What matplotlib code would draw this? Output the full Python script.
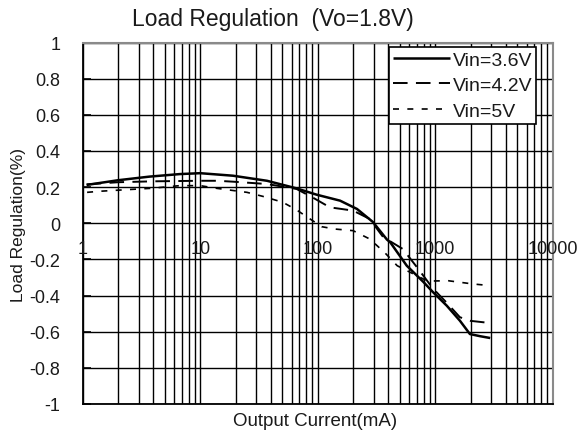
import matplotlib
matplotlib.use("Agg")
import matplotlib.pyplot as plt
from matplotlib.ticker import LogLocator, NullFormatter, FixedLocator

plt.rcParams['font.family'] = ['Liberation Sans', 'DejaVu Sans']

# ---- data ----
i_36 = [1.08, 2, 3.7, 6.7, 10, 19, 37, 66, 98, 155, 216, 295, 388, 414, 573, 794, 954, 1254, 1622, 1975, 2415, 2940]
v_36 = [0.212, 0.238, 0.258, 0.272, 0.277, 0.263, 0.235, 0.193, 0.158, 0.125, 0.079, 0.007, -0.09, -0.105, -0.235, -0.325, -0.38, -0.456, -0.539, -0.613, -0.625, -0.635]

i_42 = [1.08, 2, 4, 10, 14, 19, 37, 66, 92, 127, 200, 277, 360, 529, 697, 954, 1254, 1622, 2000, 2940]
v_42 = [0.215, 0.227, 0.232, 0.235, 0.235, 0.23, 0.217, 0.19, 0.14, 0.088, 0.07, 0.024, -0.076, -0.142, -0.242, -0.36, -0.44, -0.52, -0.54, -0.552]

i_50 = [1.09, 1.4, 2.4, 3.75, 6.7, 10, 13.9, 25, 34, 50.5, 66, 86, 108, 140, 200, 277, 320, 375, 475, 860, 1290, 2100, 2940]
v_50 = [0.171, 0.177, 0.186, 0.193, 0.208, 0.208, 0.193, 0.171, 0.149, 0.116, 0.074, 0.024, -0.019, -0.032, -0.041, -0.087, -0.124, -0.165, -0.235, -0.32, -0.318, -0.336, -0.345]

series_labels = ['Vin=3.6V', 'Vin=4.2V', 'Vin=5V']
ytick_vals = [1, 0.8, 0.6, 0.4, 0.2, 0, -0.2, -0.4, -0.6, -0.8, -1]
ytick_labels = ['1', '0.8', '0.6', '0.4', '0.2', '0', '-0.2', '-0.4', '-0.6', '-0.8', '-1']
xtick_vals = [1, 10, 100, 1000, 10000]
xtick_labels = ['1', '10', '100', '1000', '10000']

W, H = 587, 431
fig = plt.figure(figsize=(W / 100, H / 100), dpi=100)
ax = fig.add_axes([82.7 / W, 1 - 405 / H, (552.7 - 82.7) / W, (405 - 43.5) / H])

ax.set_xscale('log')
ax.set_xlim(1, 10000)
ax.set_ylim(-1, 1)

ax.xaxis.set_major_locator(FixedLocator(xtick_vals))
ax.xaxis.set_minor_locator(LogLocator(base=10, subs=range(2, 10)))
ax.xaxis.set_major_formatter(NullFormatter())
ax.xaxis.set_minor_formatter(NullFormatter())
ax.tick_params(axis='x', which='both', length=0)

ax.set_yticks(ytick_vals)
ax.set_yticklabels(ytick_labels)
ax.tick_params(axis='y', direction='in', length=6, width=1.2, pad=16,
               labelsize=13, colors='black')
for lab in ax.get_yticklabels():
    lab.set_color('#1a1a1a')

ax.grid(True, which='both', axis='x', color='black', linewidth=1.0)
ax.grid(True, which='major', axis='y', color='black', linewidth=1.0)

for s in ['left', 'bottom']:
    ax.spines[s].set_color('black')
    ax.spines[s].set_linewidth(1.3)
for s in ['top', 'right']:
    ax.spines[s].set_color('#8a8a8a')
    ax.spines[s].set_linewidth(1.5)

ax.plot(i_36, v_36, color='black', linewidth=1.8, solid_capstyle='butt',
        label=series_labels[0])
ax.plot(i_42, v_42, color='black', linewidth=1.4, linestyle=(0, (7.5, 4.3)),
        label=series_labels[1])
ax.plot(i_50, v_50, color='black', linewidth=1.2, linestyle=(0, (3.6, 5.0)),
        label=series_labels[2])

for xv, xl in zip(xtick_vals, xtick_labels):
    ax.text(xv, -0.142, xl, ha='center', va='center', fontsize=13,
            color='#1a1a1a', zorder=3)

leg = ax.legend(loc='upper right', bbox_to_anchor=(536 / W, 1 - 48 / H),
                bbox_transform=fig.transFigure, borderaxespad=0,
                fancybox=False, framealpha=1, edgecolor='black',
                fontsize=14, handlelength=2.9, handletextpad=0.15,
                labelspacing=0.41, borderpad=0.2)
leg.get_frame().set_linewidth(1.2)
for t in leg.get_texts():
    t.set_color('#1a1a1a')

fig.text(272.5 / W, 1 - 26 / H, 'Load Regulation  (Vo=1.8V)', ha='center',
         va='baseline', fontsize=16.5, color='#1a1a1a')
fig.text(315 / W, 1 - 425.7 / H, 'Output Current(mA)', ha='center',
         va='baseline', fontsize=13.5, color='#1a1a1a')
fig.text(19 / W, 1 - 225 / H, 'Load Regulation(%)', ha='center',
         va='center', rotation=90, fontsize=12.5, color='#1a1a1a')

fig.savefig('out.png', dpi=100)
